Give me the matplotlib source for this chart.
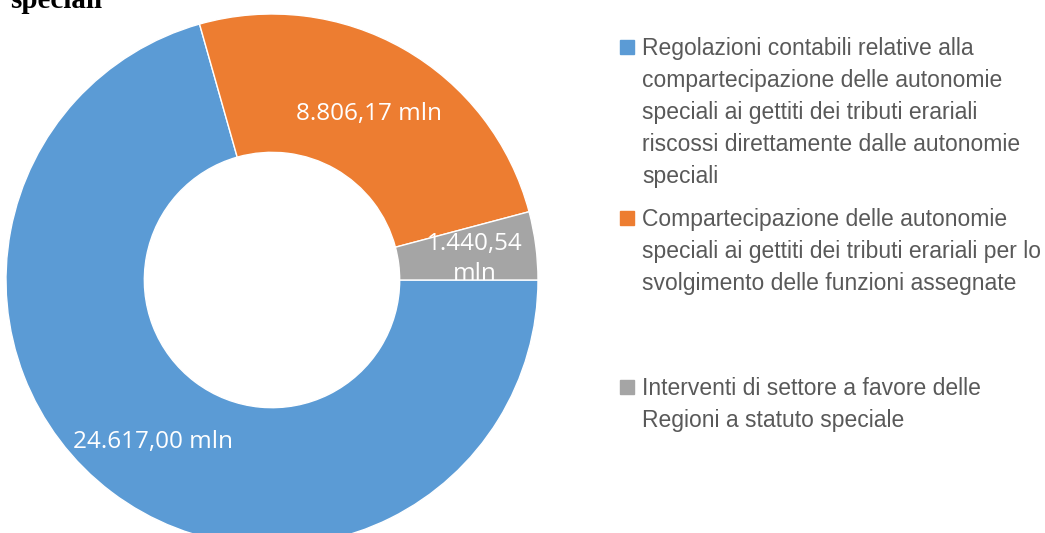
import numpy as np
import matplotlib.pyplot as plt
from matplotlib.patches import Rectangle

labels = [
    "Regolazioni contabili relative alla\ncompartecipazione delle autonomie\n"
    "speciali ai gettiti dei tributi erariali\nriscossi direttamente dalle autonomie\nspeciali",
    "Compartecipazione delle autonomie\nspeciali ai gettiti dei tributi erariali per lo\n"
    "svolgimento delle funzioni assegnate",
    "Interventi di settore a favore delle\nRegioni a statuto speciale",
]
values = [24617.00, 8806.17, 1440.54]
value_labels = ["24.617,00 mln", "8.806,17 mln", "1.440,54\nmln"]
colors = ["#5B9BD5", "#ED7D31", "#A5A5A5"]

W, H = 1045, 533
fig = plt.figure(figsize=(W / 100, H / 100), dpi=100)

# donut: center (272, 280) px from top-left, radius 266 px
cx, cy, r = 272, 280, 266
ax = fig.add_axes([(cx - r) / W, (H - cy - r) / H, 2 * r / W, 2 * r / H])
wedges, _ = ax.pie(values, colors=colors, startangle=0, counterclock=False,
                   radius=1, wedgeprops=dict(width=0.52, edgecolor="white", linewidth=1))
ax.set_xlim(-1, 1)
ax.set_ylim(-1, 1)
ax.set_aspect("equal")
ax.axis("off")
for w in wedges:
    w.set_clip_on(False)

label_r = [0.74, 0.74, 0.77]
for w, txt, lr in zip(wedges, value_labels, label_r):
    th = np.deg2rad((w.theta1 + w.theta2) / 2)
    ax.text(lr * np.cos(th), lr * np.sin(th) - 0.02, txt, color="white", fontsize=17.5,
            family="Open Sans", ha="center", va="center", linespacing=1.3)

# cropped title at the top
fig.text(10 / W, 1 - 8 / H, "speciali", family="Liberation Serif", weight="bold",
         fontsize=21, va="baseline", ha="left")

# legend
first_line_y = [47, 218, 387]
for lab, col, y in zip(labels, colors, first_line_y):
    fig.patches.append(Rectangle((620 / W, 1 - (y + 7) / H), 14 / W, 14 / H,
                                 transform=fig.transFigure, color=col))
    fig.text(642 / W, 1 - (y - 10) / H, lab, family="Liberation Sans", fontsize=16.5,
             color="#595959", va="top", ha="left", linespacing=1.5)

fig.savefig("out.png", dpi=100)
